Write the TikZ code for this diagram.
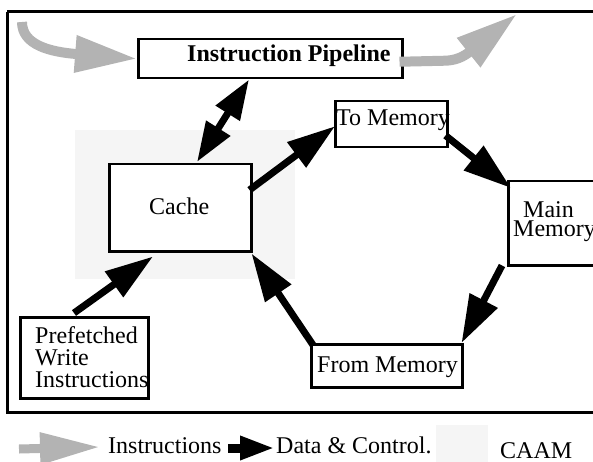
\documentclass[tikz,border=0pt]{standalone}
\usepackage{fontspec}
\setmainfont{Liberation Serif}
\usetikzlibrary{arrows.meta,calc}
\definecolor{arrgrey}{HTML}{B3B3B3}
\definecolor{caamgrey}{HTML}{F5F5F5}
\tikzset{
  boxnode/.style={draw, line width=2.5pt, fill=white, inner sep=0pt, anchor=north west},
  lbl/.style={inner sep=0pt, anchor=base west, font=\fontsize{24}{26}\selectfont},
  blackarrow/.style={line width=7pt, -{Triangle[length=48pt,width=30pt]}},
  dblarrow/.style={line width=7pt, {Triangle[length=40pt,width=27pt]}-{Triangle[length=40pt,width=27pt]}},
  greyarrow/.style={draw=arrgrey, line width=10pt, -{Triangle[length=62pt,width=35pt]}},
}
\begin{document}
\begin{tikzpicture}[x=1pt,y=-1pt]
\useasboundingbox (0,0) rectangle (593,462);
% frame
\draw[line width=3pt] (7,12) -- (610,12) (7,12) -- (7,412) -- (610,412);
% CAAM area
\fill[caamgrey] (75,130) rectangle (295,279);
% boxes
\node[boxnode, minimum width=264pt, minimum height=39pt] (pipe) at (137,38) {};
\node[boxnode, minimum width=112pt, minimum height=46pt] (tomem) at (334,100) {};
\node[boxnode, minimum width=100pt, minimum height=84pt] (main) at (507,180) {};
\node[boxnode, minimum width=142pt, minimum height=87pt] (cache) at (108,163) {};
\node[boxnode, minimum width=128pt, minimum height=81pt] (pref) at (19,316) {};
\node[boxnode, minimum width=151pt, minimum height=43pt] (from) at (310,343) {};
% grey instruction arrows
\coordinate (gin) at (22,22);
\draw[greyarrow] (gin) .. controls (22,45) and (50,52) .. (pipe.west);
\coordinate (gout) at (517,14);
\draw[greyarrow] ($(pipe.east)+(-4,3)$) -- ($(pipe.east)+(40,2)$) .. controls ($(pipe.east)+(52,2)$) and ($(pipe.east)+(60,-2)$) .. (gout);
% black data arrows
\draw[dblarrow] ($(pipe.south west)+(112,0)$) -- ($(cache.north west)+(89,-1)$);
\draw[blackarrow] ($(cache.north east)+(-3,27)$) -- ($(tomem.west)+(1,2)$);
\draw[blackarrow] ($(tomem.south east)+(-3,-13)$) -- ($(main.north west)+(4,8)$);
\draw[blackarrow] ($(main.south west)+(-5,-1)$) -- ($(from.north east)+(-2,0)$);
\draw[blackarrow] ($(from.north west)+(3,2)$) -- ($(cache.south east)+(-1,1)$);
\draw[blackarrow] ($(pref.north west)+(55,-3)$) -- ($(cache.south west)+(45,4)$);
% texts
\node[lbl, font=\fontsize{24}{26}\selectfont\bfseries] (tpipe) at (187,62) {Instruction Pipeline};
\node[lbl] (ttomem) at (336,126) {To Memory};
\node[lbl] (tmain1) at (523,217) {Main};
\node[lbl] (tmain2) at (513,236) {Memory};
\node[lbl] (tcache) at (149,214) {Cache};
\node[lbl] (tpref1) at (35,343) {Prefetched};
\node[lbl] (tpref2) at (35,365) {Write};
\node[lbl] (tpref3) at (35,387) {Instructions};
\node[lbl] (tfrom) at (317,372) {From Memory};
% legend
\coordinate (lga) at (19,449);
\coordinate (lgb) at (100,447);
\draw[draw=arrgrey, line width=9pt, -{Triangle[length=60pt,width=30pt]}] (lga) -- (lgb);
\node[lbl] (tins) at (108,453) {Instructions};
\coordinate (lgc) at (228,448);
\coordinate (lgd) at (275,448);
\draw[line width=9pt, -{Triangle[length=35pt,width=22pt]}] (lgc) -- (lgd);
\node[lbl] (tdata) at (276,453) {Data \& Control.};
\fill[caamgrey] (436,425) rectangle (488,462);
\node[lbl] (tcaam) at (500,458) {CAAM};
\end{tikzpicture}
\end{document}
